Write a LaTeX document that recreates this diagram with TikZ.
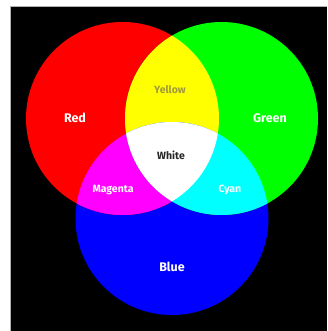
\documentclass[tikz,border=0pt]{standalone}
\usepackage{fontspec}
\setsansfont{Fira Sans}
\usepackage{xcolor}
\usepackage{tikz}
\definecolor{rgbred}{HTML}{FF0000}
\definecolor{rgbgreen}{HTML}{00FF00}
\definecolor{rgbblue}{HTML}{0000FF}
\definecolor{rgbyellow}{HTML}{FFFF00}
\definecolor{rgbmagenta}{HTML}{FF00FF}
\definecolor{rgbcyan}{HTML}{00FFFF}
\definecolor{olivetext}{HTML}{A09A3C}
\definecolor{frame}{HTML}{B0B0B0}

\begin{document}
\begin{tikzpicture}[x=1pt,y=-1pt,
  bigname/.style={font=\sffamily\bfseries\fontsize{12.5}{13}\selectfont,text=white},
  smallname/.style={font=\sffamily\bfseries\fontsize{10.5}{11}\selectfont,text=white}]
\useasboundingbox (0,0) rectangle (327,331);
\fill[white] (0,0) rectangle (327,331);
\fill[black] (10,6) rectangle (327,331);
\draw[frame,line width=.6pt] (10,331)--(10,6)--(327,6);
% three primaries
\def\rad{96.5}
\fill[rgbblue] (172,218.5) circle (\rad);
\fill[rgbred] (122.5,118.5) circle (\rad);
\fill[rgbgreen] (221.5,118.5) circle (\rad);
% pairwise mixes
\begin{scope}\clip (122.5,118.5) circle (\rad);\fill[rgbyellow] (221.5,118.5) circle (\rad);\end{scope}
\begin{scope}\clip (122.5,118.5) circle (\rad);\fill[rgbmagenta] (172,218.5) circle (\rad);\end{scope}
\begin{scope}\clip (221.5,118.5) circle (\rad);\fill[rgbcyan] (172,218.5) circle (\rad);\end{scope}
% all three
\begin{scope}\clip (122.5,118.5) circle (\rad);\clip (221.5,118.5) circle (\rad);\fill[white] (172,218.5) circle (\rad);\end{scope}
% labels
\node[bigname] (red) at (75,118) {Red};
\node[bigname] (green) at (270,118) {Green};
\node[bigname] (blue) at (172,267) {Blue};
\node[smallname,text=olivetext] (yellow) at (170,90) {Yellow};
\node[smallname,text=black!85] (white) at (171,155) {White};
\node[smallname] (magenta) at (113,190) {Magenta};
\node[smallname] (cyan) at (230,190) {Cyan};
\end{tikzpicture}
\end{document}
